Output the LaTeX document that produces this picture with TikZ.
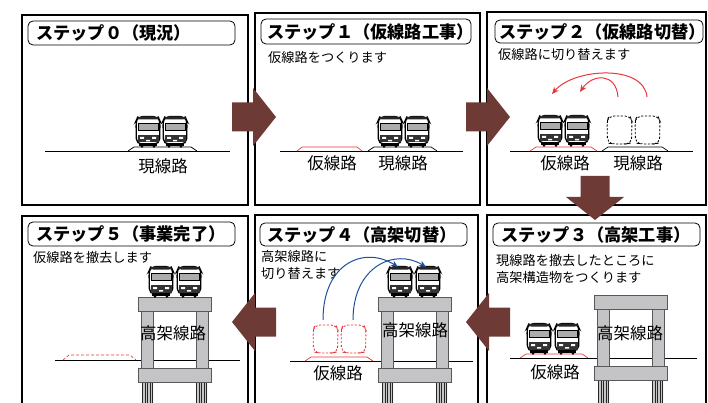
\documentclass[tikz,border=0pt]{standalone}
\usepackage{fontspec}
\setmainfont{Noto Sans CJK JP}
\usetikzlibrary{arrows.meta}

\definecolor{arrowbrown}{HTML}{6E3A36}
\definecolor{trackred}{HTML}{E8363C}
\definecolor{swblue}{HTML}{1E4F9E}
\definecolor{viafill}{HTML}{C4C4C6}
\definecolor{viaedge}{HTML}{58585A}

\tikzset{
  panel/.style={draw, line width=1.3pt},
  header/.style={draw, rounded corners=5pt, line width=0.8pt},
  title/.style={anchor=west, inner sep=0pt, font=\fontsize{17.2}{17}\selectfont\bfseries},
  note/.style={anchor=west, inner sep=0pt, align=left, font=\fontsize{13.2}{17}\selectfont},
  lbl/.style={inner sep=0pt, font=\fontsize{16.5}{16.5}\selectfont},
  ground/.style={line width=0.7pt},
  bed/.style={line width=0.7pt},
  % front view of a commuter train, origin top left
  train/.pic={
    \filldraw[fill=white, line width=1.3pt, rounded corners=5pt]
      (1.5,29) -- (1,6) -- (3,1.5) -- (23,1.5) -- (25,6) -- (24.5,29) -- cycle;
    \fill[black!85, rounded corners=3pt] (3,1.5) -- (23,1.5) -- (24,4.5) -- (2,4.5) -- cycle;
    \filldraw[fill=gray!65, line width=0.9pt] (3,8) rectangle (23,15);
    \fill[black!80] (2.5,20) rectangle (23.5,27.5);
    \fill[white] (5,22) rectangle (9,24) (17,22) rectangle (21,24) (11,25) rectangle (15,26.5);
    \fill[black] (4,28) rectangle (22,31);
    \fill[black] (7,31.5) circle (1.4) (19,31.5) circle (1.4);
  },
  % dashed outline of a train that has moved away
  ghost/.pic={
    \draw[#1, line width=0.8pt, dash pattern=on 2.2pt off 1.6pt, rounded corners=5pt]
      (1.5,28) -- (1,6) -- (3,1) -- (24,1) -- (26,6) -- (25.5,28) -- (20,29) -- (7,29) -- cycle;
  },
  % viaduct with deck, two columns, footing and piles
  viaduct/.pic={
    \fill[gray!45] (4,85) rectangle (15,120) (58,85) rectangle (69,120);
    \foreach \px in {4.5,7,9.5,12,14.5,58.5,61,63.5,66,68.5}
      \draw[black!85, line width=0.9pt] (\px,85) -- (\px,120);
    \filldraw[fill=viafill, draw=viaedge, line width=0.8pt] (3,14) rectangle (15,71) (58,14) rectangle (70,71);
    \filldraw[fill=viafill, draw=viaedge, line width=0.8pt] (0,0) rectangle (73,14);
    \filldraw[fill=viafill, draw=viaedge, line width=0.8pt] (0,71) rectangle (73,85);
  },
  % big block arrow between the steps, pointing along +x
  stepflow/.pic={
    \fill[arrowbrown] (0,-14.5) -- (21,-14.5) -- (21,-29) -- (44,0) -- (21,29) -- (21,14.5) -- (0,14.5) -- cycle;
  }
}

\begin{document}
\begin{tikzpicture}[x=1pt, y=-1pt, >={Stealth[length=7pt, width=6pt]}]
\useasboundingbox (0,0) rectangle (708,403);
\clip (0,0) rectangle (708,403);

% panels
\draw[panel] (22,15) rectangle (248,205);
\draw[panel] (255,13) rectangle (480,205);
\draw[panel] (487,12) rectangle (706,205);
\draw[panel] (22,216) rectangle (248,420);
\draw[panel] (255,215) rectangle (478,420);
\draw[panel] (487,215) rectangle (706,420);

% headers
\draw[header] (28,21) rectangle (235,45);
\node[title] (h0) at (36,33) {ステップ０（現況）};
\draw[header] (261,19) rectangle (471,44);
\node[title] (h1) at (267,31.5) {ステップ１（仮線路工事）};
\draw[header] (495,20) rectangle (703,43);
\node[title] (h2) at (499,31.5) {ステップ２（仮線路切替）};
\draw[header] (493,223) rectangle (700,246);
\node[title] (h3) at (501,234.5) {ステップ３（高架工事）};
\draw[header] (260,223) rectangle (467,246);
\node[title] (h4) at (267,234.5) {ステップ４（高架切替）};
\draw[header] (28,222) rectangle (235,246);
\node[title] (h5) at (36,234) {ステップ５（事業完了）};

% notes
\node[note] (s1) at (268,57) {仮線路をつくります};
\node[note] (s2) at (498,55) {仮線路に切り替えます};
\node[note] (s3) at (496,269) {現線路を撤去したところに\\高架構造物をつくります};
\node[note] (s4) at (261,265.5) {高架線路に\\切り替えます};
\node[note] (s5) at (33,258) {仮線路を撤去します};

% step 0
\draw[ground] (45,151) -- (230,151);
\draw[bed] (128,151) -- (134,147) -- (191,147) -- (197,151);
\pic at (135,115) {train};
\pic at (162,115) {train};
\node[lbl] (l0) at (163,166) {現線路};

% step 1
\draw[ground] (280,151) -- (463,151);
\draw[bed, trackred] (297,151) -- (302,147) -- (357,147) -- (362,151);
\draw[bed] (368,151) -- (374,147) -- (431,147) -- (437,151);
\pic at (377,115) {train};
\pic at (404,115) {train};
\node[lbl] (l1a) at (332,163) {仮線路};
\node[lbl] (l1b) at (403,163) {現線路};

% step 2
\draw[ground] (510,151) -- (693,151);
\draw[bed, trackred] (530,151) -- (536,147) -- (591,147) -- (597,151);
\draw[bed] (602,151) -- (608,147) -- (662,147) -- (668,151);
\pic at (537,114) {train};
\pic at (564,114) {train};
\pic at (606,115) {ghost=black};
\pic at (634,115) {ghost=black};
\draw[trackred, line width=1pt, ->] (618,97) .. controls (616,72) and (592,74) .. (580,92);
\draw[trackred, line width=1pt, ->] (647,97) .. controls (644,64) and (574,68) .. (552,94);
\node[lbl] (l2a) at (565,163) {仮線路};
\node[lbl] (l2b) at (638,163) {現線路};

% step 3
\draw[ground] (510,358) -- (697,358);
\draw[bed, trackred] (520,358) -- (526,354) -- (582,354) -- (588,358);
\pic at (526,322) {train};
\pic at (554,322) {train};
\pic at (594,295) {viaduct};
\node[lbl] (l3a) at (555,372) {仮線路};
\node[lbl] (l3b) at (630,333) {高架線路};

% step 4
\draw[ground] (290,361) -- (473,361);
\draw[bed, trackred] (305,361) -- (311,357) -- (367,357) -- (373,361);
\pic at (312,324) {ghost=trackred};
\pic at (340,324) {ghost=trackred};
\pic at (378,297) {viaduct};
\pic at (387,265) {train};
\pic at (415,265) {train};
\draw[swblue, line width=1pt, ->] (323,320) .. controls (323,262) and (365,246) .. (398,267);
\draw[swblue, line width=1pt, ->] (353,320) .. controls (353,266) and (395,248) .. (426,267);
\node[lbl] (l4a) at (338,373) {仮線路};
\node[lbl] (l4b) at (415,330) {高架線路};

% step 5
\draw[ground] (55,360) -- (240,360);
\draw[bed, trackred, dash pattern=on 3pt off 2pt] (63,360) -- (69,355) -- (130,355) -- (136,360);
\pic at (138,297) {viaduct};
\pic at (148,265) {train};
\pic at (176,265) {train};
\node[lbl] (l5) at (173,333) {高架線路};

% flow between the steps
\pic at (232,117) {stepflow};
\pic at (466,117) {stepflow};
\pic[rotate=-90] at (595,176) {stepflow};
\pic[rotate=180] at (510,322) {stepflow};
\pic[rotate=180] at (276,322) {stepflow};

\end{tikzpicture}
\end{document}
